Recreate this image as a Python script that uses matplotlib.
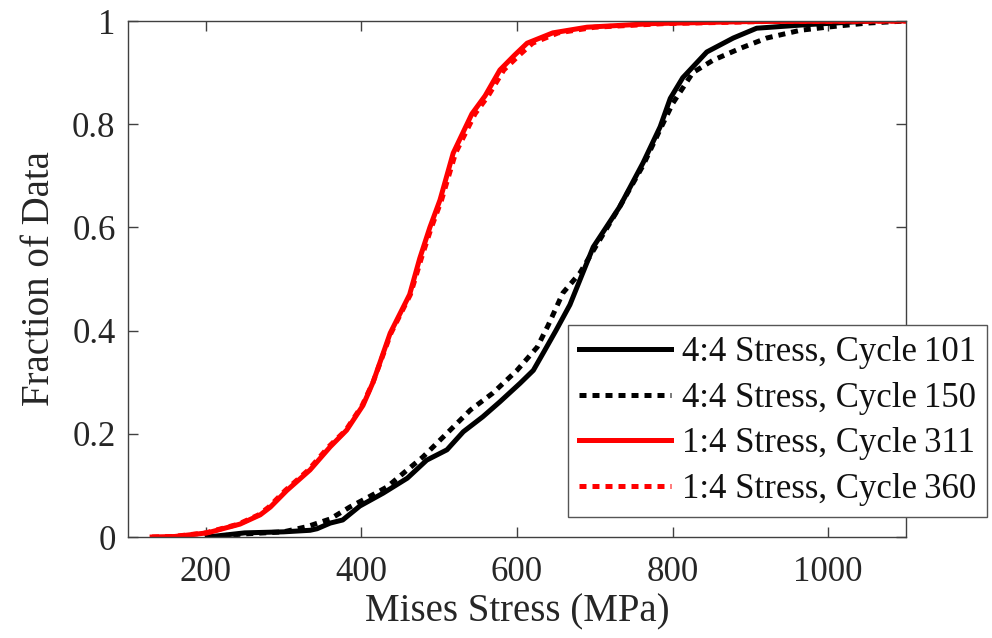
import matplotlib
matplotlib.use("Agg")
import matplotlib.pyplot as plt

plt.rcParams['font.family'] = ['Liberation Serif', 'DejaVu Serif']

# ---- data ----
x_101 = [202, 250, 300, 334, 343, 360, 376, 398, 428, 459, 484, 510, 531, 556, 578,
         604, 621, 635, 650, 668, 698, 732, 762, 784, 797, 813, 844, 878, 908, 973, 1054]
y_101 = [0, 0.008, 0.01, 0.013, 0.016, 0.027, 0.033, 0.06, 0.085, 0.114, 0.149, 0.169,
         0.204, 0.233, 0.262, 0.298, 0.323, 0.36, 0.40, 0.45, 0.562, 0.64, 0.725,
         0.795, 0.85, 0.89, 0.94, 0.967, 0.986, 0.993, 1.0]

x_150 = [202, 250, 300, 330, 360, 385, 410, 433, 455, 479, 514, 540, 569, 600, 626,
         640, 659, 681, 700, 732, 762, 784, 800, 826, 852, 887, 921, 964, 998, 1050, 1100]
y_150 = [0, 0.006, 0.01, 0.02, 0.035, 0.058, 0.078, 0.097, 0.125, 0.155, 0.207, 0.246,
         0.279, 0.323, 0.368, 0.41, 0.473, 0.512, 0.56, 0.64, 0.72, 0.79, 0.84, 0.90,
         0.924, 0.947, 0.967, 0.982, 0.988, 0.996, 1.0]

x_311 = [131, 160, 202, 244, 270, 283, 304, 334, 360, 381, 402, 415, 437, 462, 475,
         488, 501, 518, 542, 559, 578, 597, 613, 646, 690, 775, 900, 1100]
y_311 = [0, 0.001, 0.008, 0.025, 0.043, 0.058, 0.09, 0.13, 0.175, 0.207, 0.255, 0.30,
         0.395, 0.47, 0.54, 0.60, 0.653, 0.744, 0.82, 0.855, 0.905, 0.934, 0.957, 0.977,
         0.988, 0.995, 0.999, 1.0]

x_360 = [131, 158, 200, 242, 268, 281, 302, 332, 358, 380, 401, 415, 438, 463, 477,
         490, 503, 521, 546, 563, 583, 603, 620, 653, 700, 790, 920, 1100]
y_360 = [0, 0.001, 0.008, 0.025, 0.043, 0.058, 0.09, 0.13, 0.175, 0.207, 0.255, 0.30,
         0.395, 0.47, 0.54, 0.60, 0.653, 0.744, 0.82, 0.855, 0.905, 0.934, 0.957, 0.977,
         0.988, 0.995, 0.999, 1.0]

labels = ['4:4 Stress, Cycle\u2009101', '4:4 Stress, Cycle\u2009150',
          '1:4 Stress, Cycle\u2009311', '1:4 Stress, Cycle\u2009360']
x_ticks = [200, 400, 600, 800, 1000]
y_ticks = [0, 0.2, 0.4, 0.6, 0.8, 1.0]
y_ticklabels = ['0', '0.2', '0.4', '0.6', '0.8', '1']

# ---- figure ----
fig = plt.figure(figsize=(9.92, 6.38), dpi=100)
ax = fig.add_axes([128/992, 101/638, (906-128)/992, (537-21)/638])

lw = 3.6
dots = (1.4, 1.2)
ax.plot(x_101, y_101, color='black', lw=lw, label=labels[0])
ax.plot(x_150, y_150, color='black', lw=lw, dashes=dots, label=labels[1])
ax.plot(x_311, y_311, color='red', lw=lw, label=labels[2])
ax.plot(x_360, y_360, color='red', lw=lw, dashes=dots, label=labels[3])

ax.set_xlim(100, 1100)
ax.set_ylim(0, 1)
ax.set_xticks(x_ticks)
ax.set_yticks(y_ticks)
ax.set_yticklabels(y_ticklabels)

spine_c = '#404040'
for s in ax.spines.values():
    s.set_color(spine_c)
    s.set_linewidth(1.0)
ax.tick_params(axis='both', which='both', direction='in', top=True, right=True,
               length=7, width=1.0, color=spine_c, labelsize=25, labelcolor='#262626')
ax.tick_params(axis='x', pad=14)
ax.tick_params(axis='y', pad=9)

ax.set_xlabel('Mises Stress (MPa)', fontsize=28, color='#262626', labelpad=3)
ax.set_ylabel('Fraction of Data', fontsize=28, color='#262626', labelpad=10)

leg = ax.legend(loc='upper left', bbox_to_anchor=(568/992, 1 - 325/638),
                bbox_transform=fig.transFigure, fontsize=25, frameon=True,
                fancybox=False, framealpha=1, edgecolor='#555555',
                handlelength=2.65, handletextpad=0.29, labelspacing=0.36,
                borderpad=0.33, borderaxespad=0)
leg.get_frame().set_linewidth(1.0)
for t in leg.get_texts():
    t.set_color('#111111')

fig.savefig('out.png', dpi=100, facecolor='white')
